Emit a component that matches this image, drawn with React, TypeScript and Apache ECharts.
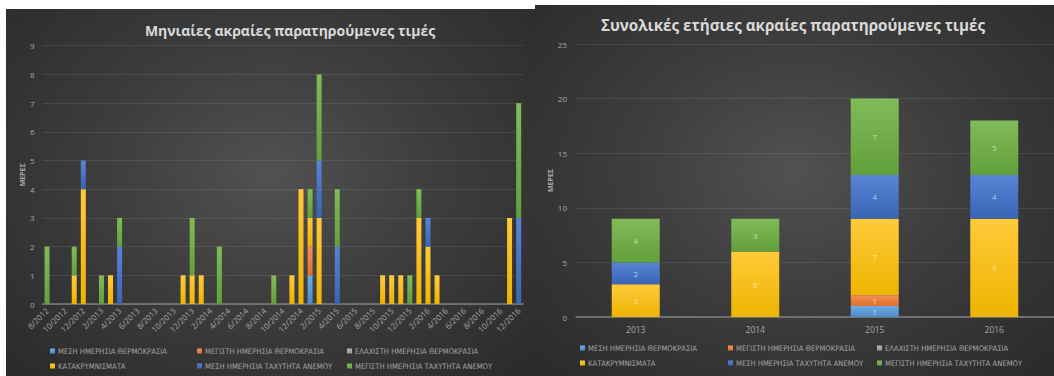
import React, { useEffect, useRef } from 'react';
import * as echarts from 'echarts';

const months = [
  '8/2012', '9/2012', '10/2012', '11/2012', '12/2012',
  '1/2013', '2/2013', '3/2013', '4/2013', '5/2013', '6/2013', '7/2013', '8/2013', '9/2013', '10/2013', '11/2013', '12/2013',
  '1/2014', '2/2014', '3/2014', '4/2014', '5/2014', '6/2014', '7/2014', '8/2014', '9/2014', '10/2014', '11/2014', '12/2014',
  '1/2015', '2/2015', '3/2015', '4/2015', '5/2015', '6/2015', '7/2015', '8/2015', '9/2015', '10/2015', '11/2015', '12/2015',
  '1/2016', '2/2016', '3/2016', '4/2016', '5/2016', '6/2016', '7/2016', '8/2016', '9/2016', '10/2016', '11/2016', '12/2016',
];

const seriesNames = [
  'ΜΕΣΗ ΗΜΕΡΗΣΙΑ ΘΕΡΜΟΚΡΑΣΙΑ',
  'ΜΕΓΙΣΤΗ ΗΜΕΡΗΣΙΑ ΘΕΡΜΟΚΡΑΣΙΑ',
  'ΕΛΑΧΙΣΤΗ ΗΜΕΡΗΣΙΑ ΘΕΡΜΟΚΡΑΣΙΑ',
  'ΚΑΤΑΚΡΥΜΝΙΣΜΑΤΑ',
  'ΜΕΣΗ ΗΜΕΡΗΣΙΑ ΤΑΧΥΤΗΤΑ ΑΝΕΜΟΥ',
  'ΜΕΓΙΣΤΗ ΗΜΕΡΗΣΙΑ ΤΑΧΥΤΗΤΑ ΑΝΕΜΟΥ',
];

// Monthly values (days), one per month 8/2012 .. 12/2016
const mMeanTemp = [0,0,0,0,0, 0,0,0,0,0,0,0,0,0,0,0,0, 0,0,0,0,0,0,0,0,0,0,0,0, 1,0,0,0,0,0,0,0,0,0,0,0, 0,0,0,0,0,0,0,0,0,0,0,0];
const mMaxTemp  = [0,0,0,0,0, 0,0,0,0,0,0,0,0,0,0,0,0, 0,0,0,0,0,0,0,0,0,0,0,0, 1,0,0,0,0,0,0,0,0,0,0,0, 0,0,0,0,0,0,0,0,0,0,0,0];
const mMinTemp  = [0,0,0,0,0, 0,0,0,0,0,0,0,0,0,0,0,0, 0,0,0,0,0,0,0,0,0,0,0,0, 0,0,0,0,0,0,0,0,0,0,0,0, 0,0,0,0,0,0,0,0,0,0,0,0];
const mRain     = [0,0,0,1,4, 0,0,1,0,0,0,0,0,0,0,1,1, 1,0,0,0,0,0,0,0,0,0,1,4, 1,3,0,0,0,0,0,0,1,1,1,0, 3,2,1,0,0,0,0,0,0,0,3,0];
const mMeanWind = [0,0,0,0,1, 0,0,0,2,0,0,0,0,0,0,0,0, 0,0,0,0,0,0,0,0,0,0,0,0, 0,2,0,2,0,0,0,0,0,0,0,0, 0,1,0,0,0,0,0,0,0,0,0,3];
const mMaxWind  = [2,0,0,1,0, 0,1,0,1,0,0,0,0,0,0,0,2, 0,0,2,0,0,0,0,0,1,0,0,0, 1,3,0,2,0,0,0,0,0,0,0,1, 1,0,0,0,0,0,0,0,0,0,0,4];

// Yearly totals
const years = ['2013', '2014', '2015', '2016'];
const yMeanTemp = [0, 0, 1, 0];
const yMaxTemp  = [0, 0, 1, 0];
const yMinTemp  = [0, 0, 0, 0];
const yRain     = [3, 6, 7, 9];
const yMeanWind = [2, 0, 4, 4];
const yMaxWind  = [4, 3, 7, 5];

const monthlyData = [mMeanTemp, mMaxTemp, mMinTemp, mRain, mMeanWind, mMaxWind];
const yearlyData = [yMeanTemp, yMaxTemp, yMinTemp, yRain, yMeanWind, yMaxWind];

const leftTicks = [0, 9, 1];
const rightTicks = [0, 25, 5];

const palette: [string, string, string][] = [
  ['#5b9bd5', '#6dabe2', '#4d8cc8'],
  ['#ed7d31', '#f3915a', '#df6f25'],
  ['#a5a5a5', '#b5b5b5', '#979797'],
  ['#ffc000', '#ffca3a', '#eeb400'],
  ['#4472c4', '#5784d4', '#3965b6'],
  ['#70ad47', '#80bb58', '#62a03c'],
];

const grad = (i: number) =>
  new echarts.graphic.LinearGradient(0, 0, 0, 1, [
    { offset: 0, color: palette[i][1] },
    { offset: 1, color: palette[i][2] },
  ]);

const FONT = '"Open Sans", "Noto Sans", sans-serif';
const LEG_FONT = '"Liberation Sans Narrow", "DejaVu Sans Condensed", "Liberation Sans", sans-serif';
const TXT = '#a6a6a6';

function buildOption() {
  const legendPos = (chart: number, i: number) => {
    const cols = chart === 0 ? [50, 197, 347] : [580, 728, 877];
    const rows = chart === 0 ? [347, 362] : [344, 359];
    return { left: cols[i % 3], top: rows[Math.floor(i / 3)] };
  };
  const legends: any[] = [];
  for (let c = 0; c < 2; c++) {
    for (let i = 0; i < 6; i++) {
      legends.push({
        ...legendPos(c, i),
        data: [seriesNames[i]],
        icon: 'rect',
        itemWidth: 5,
        itemHeight: 5,
        itemGap: 4,
        padding: 0,
        selectedMode: false,
        textStyle: { color: TXT, fontSize: 7.6, fontFamily: LEG_FONT, padding: [0, 0, 0, -2] },
      });
    }
  }

  const series: any[] = [];
  seriesNames.forEach((name, i) => {
    series.push({
      type: 'bar',
      name,
      xAxisIndex: 0,
      yAxisIndex: 0,
      stack: 'monthly',
      barWidth: 5,
      data: monthlyData[i],
      itemStyle: { color: grad(i) },
    });
  });
  seriesNames.forEach((name, i) => {
    series.push({
      type: 'bar',
      name,
      xAxisIndex: 1,
      yAxisIndex: 1,
      stack: 'yearly',
      barWidth: 48,
      data: yearlyData[i],
      itemStyle: { color: grad(i) },
      label: {
        show: true,
        position: 'inside',
        fontSize: 8,
        fontFamily: FONT,
        color: 'rgba(255,255,255,0.6)',
        formatter: (p: any) => (p.value > 0 ? String(p.value) : ''),
      },
    });
  });

  const yAxisCommon = (ticks: number[], gap: number, labelMargin: number) => ({
    type: 'value',
    min: ticks[0],
    max: ticks[1],
    interval: ticks[2],
    name: 'ΜΕΡΕΣ',
    nameLocation: 'middle',
    nameRotate: 90,
    nameGap: gap,
    nameTextStyle: { color: TXT, fontSize: 7, fontWeight: 'bold', fontFamily: FONT },
    axisLine: { show: false },
    axisTick: { show: false },
    axisLabel: { color: TXT, fontSize: 8, fontFamily: FONT, margin: labelMargin },
    splitLine: { lineStyle: { color: 'rgba(255,255,255,0.09)', width: 1 } },
  });

  return {
    animation: false,
    backgroundColor: 'transparent',
    graphic: [
      {
        type: 'text',
        x: 290,
        y: 30,
        style: {
          text: 'Μηνιαίες ακραίες παρατηρούμενες τιμές',
          fill: '#d9d9d9',
          font: `bold 14px ${FONT}`,
          textAlign: 'center',
          textVerticalAlign: 'middle',
        },
      },
      {
        type: 'text',
        x: 793,
        y: 25,
        style: {
          text: 'Συνολικές ετήσιες ακραίες παρατηρούμενες τιμές',
          fill: '#d9d9d9',
          font: `bold 15.2px ${FONT}`,
          textAlign: 'center',
          textVerticalAlign: 'middle',
        },
      },
    ],
    legend: legends,
    grid: [
      { left: 42.5, top: 45.7, width: 480.7, height: 258.3, containLabel: false },
      { left: 576, top: 44, width: 478.5, height: 273, containLabel: false },
    ],
    xAxis: [
      {
        type: 'category',
        gridIndex: 0,
        data: months,
        axisTick: { show: false },
        axisLine: { lineStyle: { color: '#7f7f7f', width: 1.5 } },
        axisLabel: { interval: 1, rotate: 45, color: TXT, fontSize: 8, fontFamily: FONT, margin: 5 },
      },
      {
        type: 'category',
        gridIndex: 1,
        data: years,
        axisTick: { show: false },
        axisLine: { lineStyle: { color: '#7f7f7f', width: 1.5 } },
        axisLabel: { color: TXT, fontSize: 8.5, fontFamily: FONT, margin: 8 },
      },
    ],
    yAxis: [
      { ...yAxisCommon(leftTicks, 17, 8), gridIndex: 0 },
      { ...yAxisCommon(rightTicks, 22, 9), gridIndex: 1 },
    ],
    series,
  };
}

export default function App() {
  const ref = useRef<HTMLDivElement>(null);
  useEffect(() => {
    if (!ref.current) return;
    const chart = echarts.init(ref.current, null, { renderer: 'svg' });
    chart.setOption(buildOption() as any);
    return () => chart.dispose();
  }, []);
  const bg = 'radial-gradient(ellipse at 50% 45%, #515151 0%, #3d3d3d 45%, #2a2a2a 100%)';
  return (
    <div style={{ position: 'absolute', left: 0, top: 0, width: 1054, height: 376, background: '#ffffff', overflow: 'hidden' }}>
      <div style={{ position: 'absolute', left: 6, top: 9, width: 529, height: 367, background: bg }} />
      <div style={{ position: 'absolute', left: 535, top: 5, width: 519, height: 371, background: bg }} />
      <div ref={ref} style={{ position: 'absolute', left: 0, top: 0, width: 1054, height: 376 }} />
    </div>
  );
}
